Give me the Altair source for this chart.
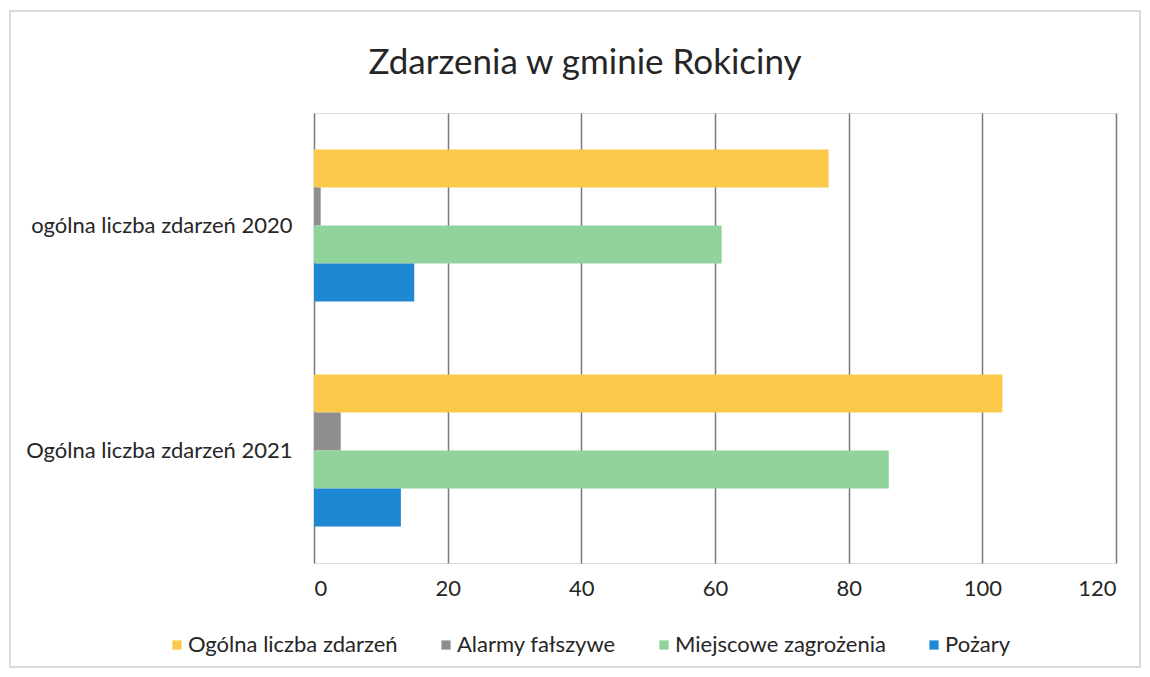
import altair as alt
import pandas as pd

categories = ["ogólna liczba zdarzeń 2020", "Ogólna liczba zdarzeń 2021"]
series = ["Ogólna liczba zdarzeń", "Alarmy fałszywe", "Miejscowe zagrożenia", "Pożary"]
values_2020 = [77, 1, 61, 15]
values_2021 = [103, 4, 86, 13]
colors = ["#FAC94A", "#8E8E8E", "#91D39C", "#1E88D2"]
x_ticks = [0, 20, 40, 60, 80, 100, 120]

rows = []
for cat, vals in zip(categories, [values_2020, values_2021]):
    for s, v in zip(series, vals):
        rows.append({"kategoria": cat, "seria": s, "wartosc": v})
df = pd.DataFrame(rows)

FONT = "Lato"
FS = 22
W, H = 802, 450
PL, PT = 306, 105

bars = alt.Chart(df).mark_bar(cornerRadius=0).encode(
    y=alt.Y("kategoria:N", sort=categories, title=None,
            scale=alt.Scale(paddingInner=0.324, paddingOuter=0.162),
            axis=alt.Axis(domain=False, ticks=False, labelFont=FONT, labelFontSize=FS,
                          labelColor="#262626", labelPadding=22, labelLimit=400)),
    yOffset=alt.YOffset("seria:N", sort=series, scale=alt.Scale(paddingInner=0, paddingOuter=0)),
    x=alt.X("wartosc:Q", title=None,
            scale=alt.Scale(domain=[0, 120], nice=False),
            axis=alt.Axis(values=x_ticks, domain=False, ticks=False, labelFont=FONT,
                          labelFontSize=FS, labelColor="#262626", labelPadding=15,
                          gridColor="#7a7a7a", gridWidth=1.5)),
    color=alt.Color("seria:N", sort=series,
                    scale=alt.Scale(domain=series, range=colors),
                    legend=alt.Legend(title=None, orient="none", direction="horizontal",
                                      legendX=-148, legendY=521, symbolType="square",
                                      symbolSize=85, symbolStrokeWidth=0,
                                      labelFont=FONT, labelFontSize=FS,
                                      labelColor="#262626", labelOffset=0,
                                      columnPadding=37, labelLimit=400)),
)

frame = alt.Chart(pd.DataFrame({"a": [0]})).mark_rect(
    fill=None, stroke="#d0d0d0", strokeWidth=1.5, clip=False
).encode(
    x=alt.value(-PL + 2), x2=alt.value(W + 24),
    y=alt.value(-PT + 3), y2=alt.value(H + 104),
)

chart = alt.layer(frame, bars).properties(
    width=W, height=H,
    autosize=alt.AutoSizeParams(type="none"),
    padding={"left": PL, "top": PT, "right": 1134 - PL - W, "bottom": 661 - PT - H},
    title=alt.TitleParams("Zdarzenia w gminie Rokiciny", font=FONT, fontSize=35,
                          fontWeight="normal", color="#262626", anchor="middle",
                          dx=-130, offset=-71),
).configure_view(stroke=None).configure(background="white")

chart.save("out.html", embed_options={"renderer": "svg", "actions": False})
